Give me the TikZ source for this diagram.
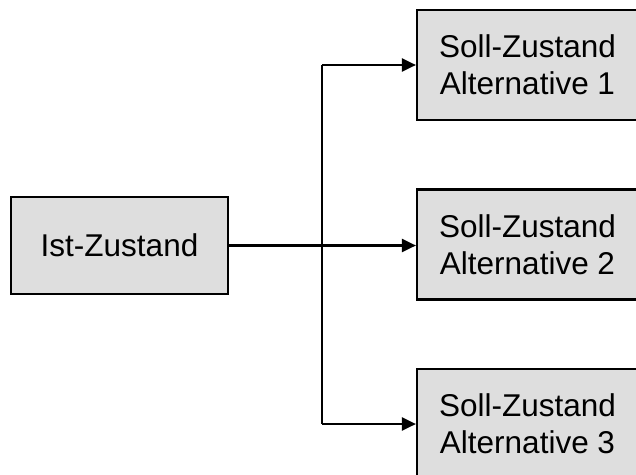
\documentclass[tikz,border=0pt]{standalone}
\usepackage{fontspec}
\setmainfont{Liberation Sans}
\usetikzlibrary{arrows.meta}
\begin{document}
\begin{tikzpicture}[x=1pt,y=-1pt,
  box/.style={draw=black,line width=2.2pt,fill=black!13,rectangle,inner sep=0pt,
    align=center,font=\fontsize{31.5}{37}\selectfont},
  conn/.style={line width=2.2pt,-{Triangle[length=14pt,width=13pt]}}]
\useasboundingbox (0,0) rectangle (636,474);
\node[box,minimum width=217pt,minimum height=97pt] (ist) at (119.5,245.5) {Ist-Zustand};
\node[box,minimum width=221pt,minimum height=110pt] (s1) at (527.5,65) {Soll-Zustand\\Alternative 1};
\node[box,minimum width=221pt,minimum height=110pt] (s2) at (527.5,244.5) {Soll-Zustand\\Alternative 2};
\node[box,minimum width=221pt,minimum height=110pt] (s3) at (527.5,424) {Soll-Zustand\\Alternative 3};
\coordinate (trunk) at (322,245.5);
\draw[conn] (ist.east) -- (ist.east -| s2.west);
\draw[line width=2.2pt] (trunk |- s1.west) -- (trunk |- s3.west);
\draw[conn] (trunk |- s1.west) -- (s1.west);
\draw[conn] (trunk |- s3.west) -- (s3.west);
\end{tikzpicture}
\end{document}
